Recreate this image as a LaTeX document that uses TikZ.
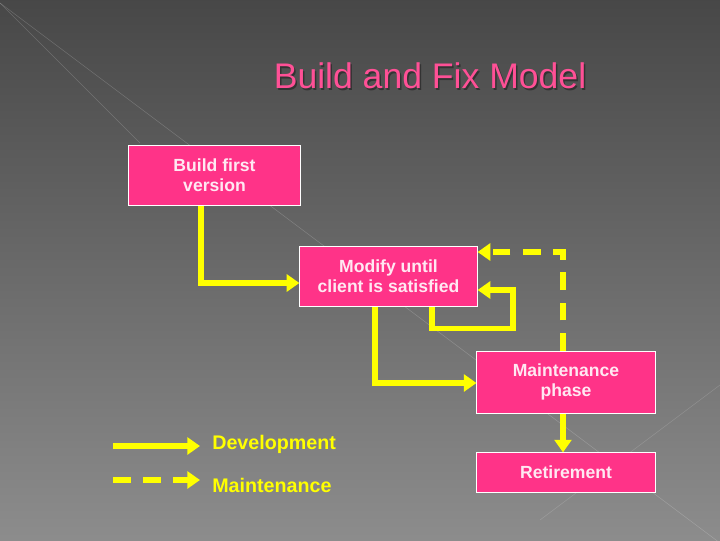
\documentclass[tikz,border=0pt]{standalone}
\usepackage{fontspec}
\setmainfont{Liberation Sans}
\usetikzlibrary{arrows.meta}

\definecolor{boxpink}{RGB}{255,51,136}
\definecolor{flowyellow}{RGB}{255,255,0}
\definecolor{titlepink}{RGB}{255,80,150}
\definecolor{boxtext}{RGB}{255,232,242}

\begin{document}
\begin{tikzpicture}[x=0.025cm, y=-0.025cm,
	every node/.style={font=\bfseries\fontsize{12.5}{14.5}\selectfont},
	phase/.style={draw=white, line width=0.7pt, fill=boxpink, text=boxtext, align=center, inner sep=0pt},
	dev/.style={draw=flowyellow, line width=3.8pt, -{Triangle[length=9pt,width=12pt]}},
	mainline/.style={dev, dash pattern=on 12.5pt off 9pt},
	legend/.style={text=flowyellow, anchor=west, inner sep=0pt, font=\bfseries\fontsize{14}{16}\selectfont}]
	% slide background
	\useasboundingbox (0,0) rectangle (720,540);
	\shade[top color=black!72, bottom color=black!45] (0,0) rectangle (720,540);
	\draw[white, opacity=0.18, line width=0.4pt] (0,3) -- (140,143);
	\draw[white, opacity=0.18, line width=0.4pt] (0,3) -- (720,543);
	\draw[white, opacity=0.15, line width=0.4pt] (720,385) -- (540,520);
	% title
	\node[font=\fontsize{25.3}{30}\selectfont, text=black!80] (titleshadow) at (431.5,77.5) {Build and Fix Model};
	\node[font=\fontsize{25.3}{30}\selectfont, text=titlepink] (title) at (430,76) {Build and Fix Model};
	% phases
	\node[phase, minimum width=4.28cm, minimum height=1.5cm] (build) at (214.5,175) {Build first\\version};
	\node[phase, minimum width=4.43cm, minimum height=1.5cm] (modify) at (388.5,276) {Modify until\\client is satisfied};
	\node[phase, minimum width=4.45cm, minimum height=1.55cm] (maintenance) at (566,382) {Maintenance\\phase};
	\node[phase, minimum width=4.45cm, minimum height=0.98cm] (retire) at (566,472.5) {Retirement};
	% development flow
	\draw[dev] ([shift={(-13.5,0)}]build.south) |- ([shift={(0,7)}]modify.west);
	\draw[dev] ([shift={(-13.5,0)}]modify.south) |- ([shift={(0,1)}]maintenance.west);
	\draw[dev] ([shift={(43.5,0)}]modify.south) -- ++(0,22) -- ++(81,0) |- ([shift={(0,14)}]modify.east);
	% maintenance flow
	\draw[mainline] ([shift={(-3,0)}]maintenance.north) |- ([shift={(0,-24)}]modify.east);
	\draw[dev] ([shift={(-3,0)}]maintenance.south) -- ([shift={(-3,0)}]retire.north);
	% legend
	\coordinate (devstart) at (113,446);
	\coordinate (maintstart) at (113,480);
	\node[legend] (devlabel) at (212,444) {Development};
	\node[legend] (maintlabel) at (212,485) {Maintenance};
	\draw[dev] (devstart) -- ([shift={(-12,0)}]devlabel.west |- devstart);
	\draw[mainline] (maintstart) -- ([shift={(-12,0)}]maintlabel.west |- maintstart);
\end{tikzpicture}
\end{document}
